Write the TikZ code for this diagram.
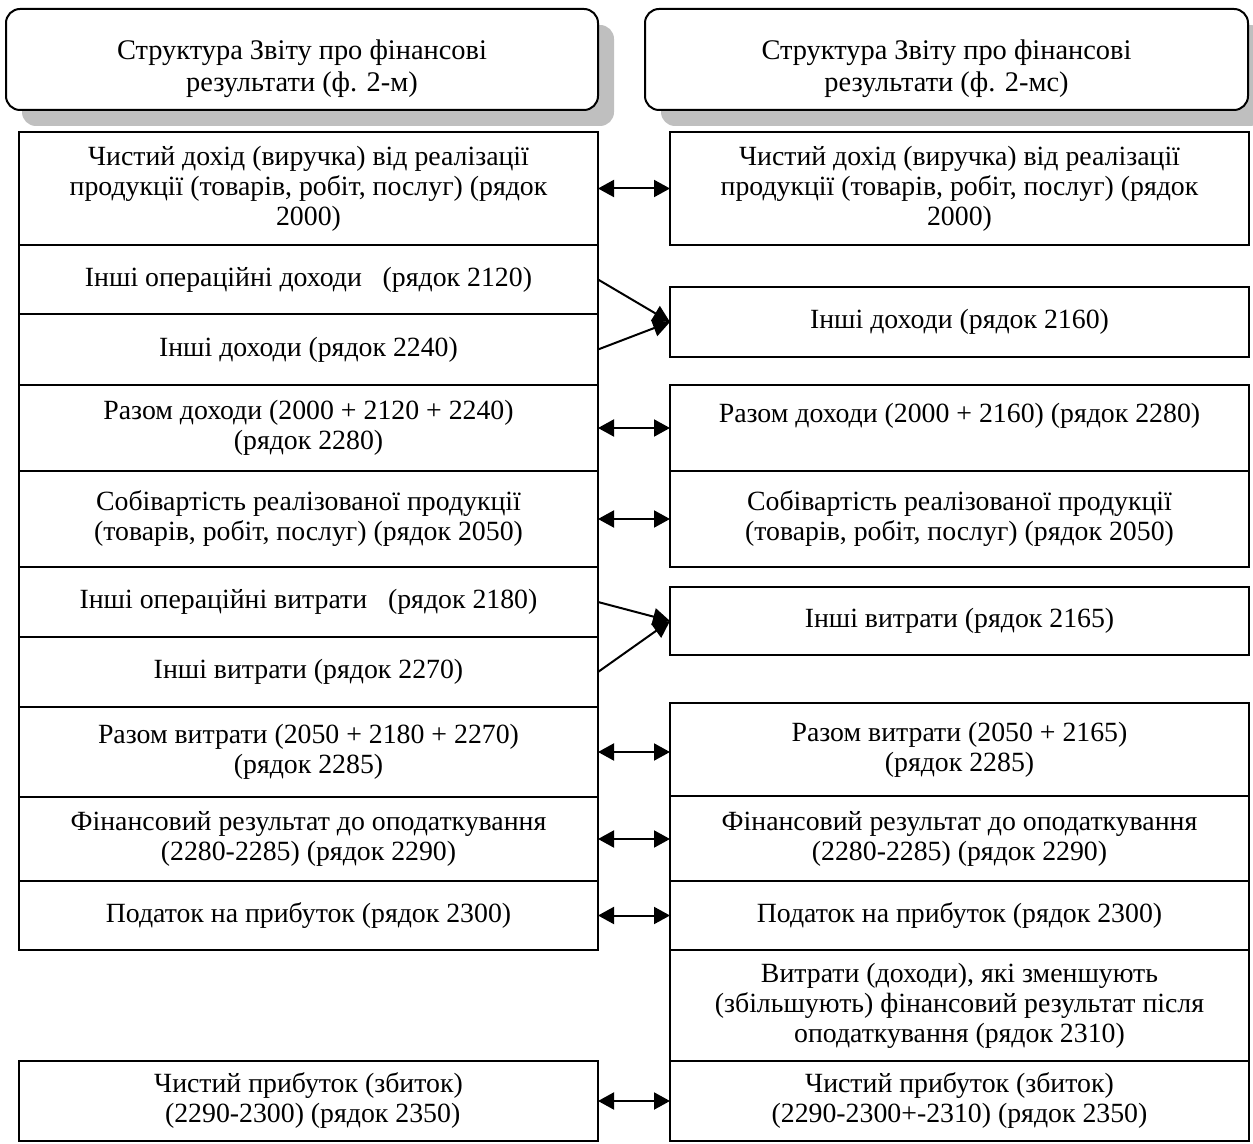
\documentclass[tikz,border=0pt]{standalone}
\usepackage{fontspec}
\setmainfont{Liberation Serif}
\usetikzlibrary{arrows.meta,positioning,shadows}

\begin{document}
\begin{tikzpicture}[x=0.5pt,y=-0.5pt]

		\def\px{0.5pt}

		\tikzset{line/.style={draw,line width=1pt}}
		\tikzset{arrow/.style={line,<->,>={Triangle[length=8pt,width=8.5pt]}}}
		\tikzset{merge/.style={line,->,>={Triangle[length=8.5pt,width=8.5pt]}}}
		\tikzset{head/.style={draw,fill=white,line width=1pt,rounded corners=7pt,shape=rectangle,inner sep=0pt,minimum width=#1*\px,minimum height=101*\px,align=center,font=\fontsize{14.2}{16}\selectfont,general shadow={fill=black!25,draw=none,shadow xshift=8pt,shadow yshift=-8pt}}}
		\tikzset{box/.style={draw,line width=0.8pt,shape=rectangle,inner sep=0pt,outer sep=0pt,minimum width=579*\px,minimum height=#1*\px,align=center,font=\fontsize{13.9}{15}\selectfont}}

		\useasboundingbox (0,0) rectangle (1253,1144);

		\node[head=592] (hl) at (302,59.5) {\rule{0pt}{19pt}Структура Звіту про фінансові\\результати (ф. 2-м)};
		\node[head=603] (hr) at (946.5,59.5) {\rule{0pt}{19pt}Структура Звіту про фінансові\\результати (ф. 2-мс)};

		\node[box=113, anchor=north] (l1) at (308.5,132) {Чистий дохід (виручка) від реалізації\\продукції (товарів, робіт, послуг) (рядок\\2000)};
		\node[box=69, below=0pt of l1] (l2) {Інші операційні доходи \hspace{0.5em}(рядок 2120)};
		\node[box=71, below=0pt of l2] (l3) {Інші доходи (рядок 2240)};
		\node[box=86, below=0pt of l3] (l4) {Разом доходи (2000 + 2120 + 2240)\\(рядок 2280)};
		\node[box=96, below=0pt of l4] (l5) {Собівартість реалізованої продукції\\(товарів, робіт, послуг) (рядок 2050)};
		\node[box=70, below=0pt of l5] (l6) {Інші операційні витрати \hspace{0.5em}(рядок 2180)};
		\node[box=70, below=0pt of l6] (l7) {Інші витрати (рядок 2270)};
		\node[box=90, below=0pt of l7] (l8) {Разом витрати (2050 + 2180 + 2270)\\(рядок 2285)};
		\node[box=84, below=0pt of l8] (l9) {Фінансовий результат до оподаткування\\(2280-2285) (рядок 2290)};
		\node[box=69, below=0pt of l9] (l10) {Податок на прибуток (рядок 2300)};
		\node[box=80, anchor=north] (l11) at (308.5,1061) {Чистий прибуток (збиток)\\\hspace*{0.3em}(2290-2300) (рядок 2350)};

		\node[box=113, right=36pt of l1] (r1) {Чистий дохід (виручка) від реалізації\\продукції (товарів, робіт, послуг) (рядок\\2000)};
		\node[box=70, anchor=north] (r2) at (959.5,287) {Інші доходи (рядок 2160)};
		\node[box=86, right=36pt of l4] (r3) {Разом доходи (2000 + 2160) (рядок 2280)\\\mbox{}};
		\node[box=96, right=36pt of l5] (r4) {Собівартість реалізованої продукції\\(товарів, робіт, послуг) (рядок 2050)};
		\node[box=68, anchor=north] (r5) at (959.5,587) {Інші витрати (рядок 2165)};
		\node[box=93, anchor=north] (r6) at (959.5,703) {Разом витрати (2050 + 2165)\\(рядок 2285)};
		\node[box=85, below=0pt of r6] (r7) {Фінансовий результат до оподаткування\\(2280-2285) (рядок 2290)};
		\node[box=69, below=0pt of r7] (r8) {Податок на прибуток (рядок 2300)};
		\node[box=111, below=0pt of r8] (r9) {Витрати (доходи), які зменшують\\(збільшують) фінансовий результат після\\оподаткування (рядок 2310)};
		\node[box=80, below=0pt of r9] (r10) {Чистий прибуток (збиток)\\(2290-2300+-2310) (рядок 2350)};

		\path[arrow] (l1.east) to (l1.east -| r1.west);
		\path[arrow] (l4.east) to (l4.east -| r3.west);
		\path[arrow] (l5.east) to (l5.east -| r4.west);
		\path[arrow] (l8.east) to (l8.east -| r6.west);
		\path[arrow] (l9.east) to (l9.east -| r7.west);
		\path[arrow] (l10.east) to (l10.east -| r8.west);
		\path[arrow] (l11.east) to (l11.east -| r10.west);

		\path[merge] (l2.east) to (r2.west);
		\path[merge] (l3.east) to (r2.west);
		\path[merge] (l6.east) to (r5.west);
		\path[merge] (l7.east) to (r5.west);

	\end{tikzpicture}
\end{document}
